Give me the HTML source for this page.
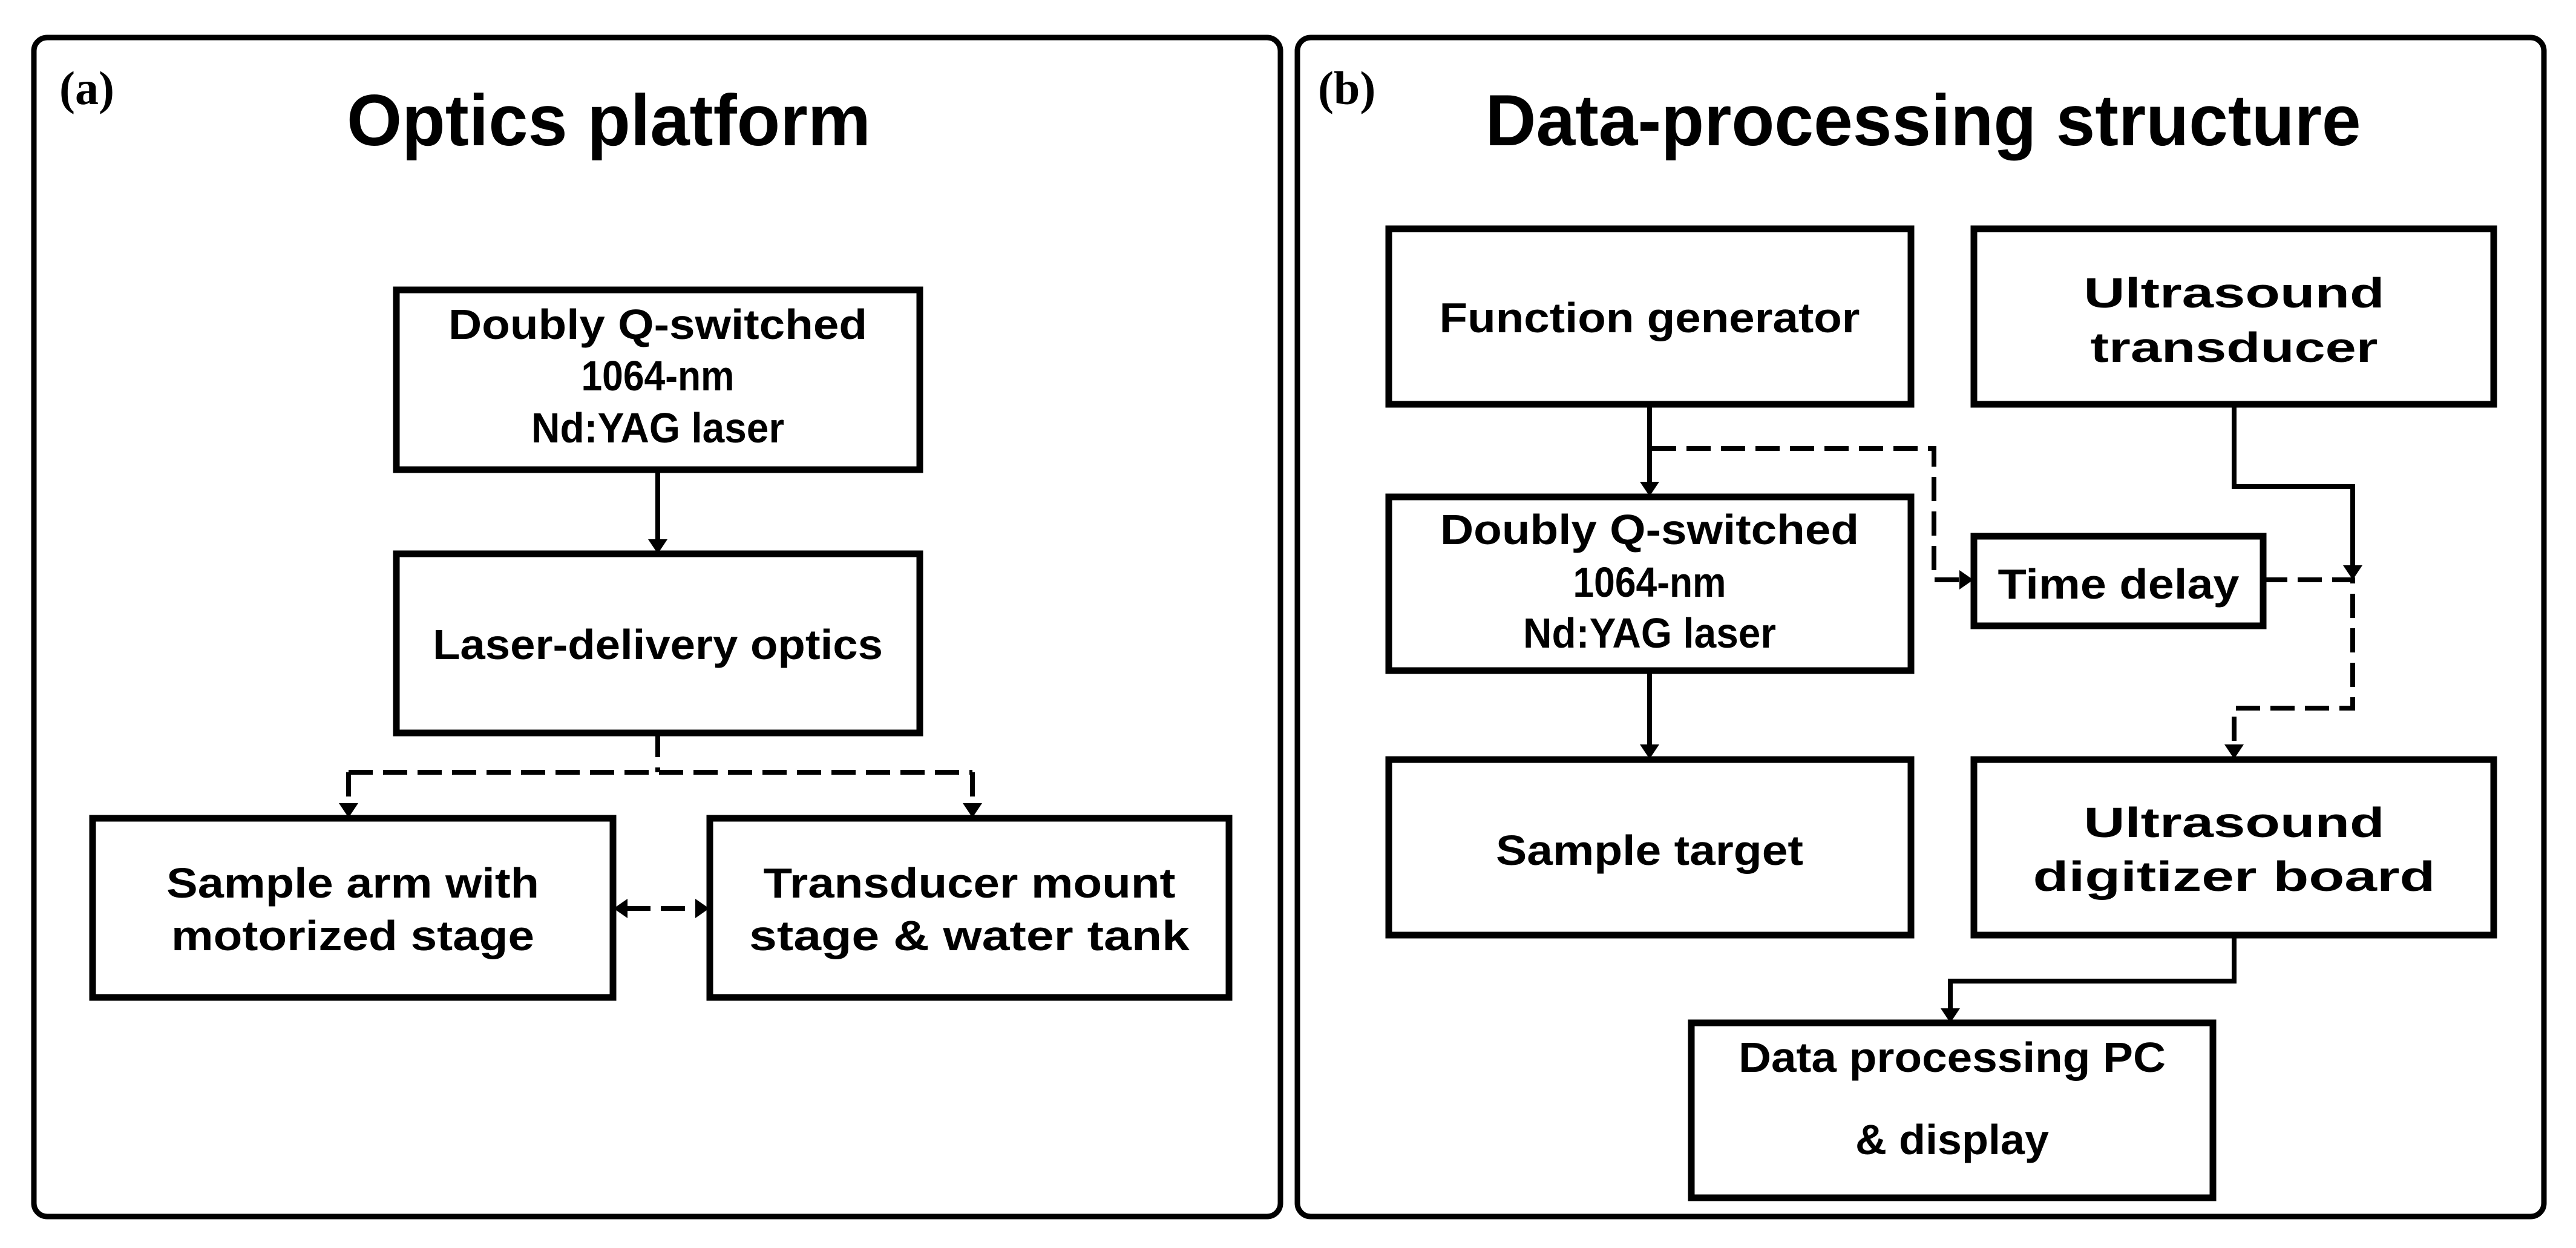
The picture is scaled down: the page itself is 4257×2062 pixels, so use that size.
<!DOCTYPE html>
<html><head><meta charset="utf-8"><style>
html,body{margin:0;padding:0;background:#fff;}
svg{display:block;}
text{font-family:"Liberation Sans",sans-serif;font-weight:bold;fill:#000;}
.t{font-size:70px;}
.h{font-size:120px;}
.l{font-family:"Liberation Serif",serif;font-size:78px;}
</style></head><body>
<svg width="4257" height="2062" viewBox="0 0 4257 2062" xmlns="http://www.w3.org/2000/svg">
<rect width="4257" height="2062" fill="#fff"/>
<!-- panels -->
<rect x="56" y="62" width="2060" height="1948" rx="22" fill="none" stroke="#000" stroke-width="9"/>
<rect x="2144" y="62" width="2060" height="1948" rx="22" fill="none" stroke="#000" stroke-width="9"/>
<text class="l" x="98" y="172">(a)</text>
<text class="l" x="2178" y="172">(b)</text>
<text class="h" x="1006" y="240" text-anchor="middle" textLength="866" lengthAdjust="spacingAndGlyphs">Optics platform</text>
<text class="h" x="3178" y="240" text-anchor="middle" textLength="1447" lengthAdjust="spacingAndGlyphs">Data-processing structure</text>

<g fill="none" stroke="#000" stroke-width="11">
<!-- panel a boxes -->
<rect x="655" y="479" width="865" height="297"/>
<rect x="655" y="915" width="865" height="296"/>
<rect x="153" y="1352" width="860" height="296"/>
<rect x="1173" y="1352" width="858" height="296"/>
<!-- panel b boxes -->
<rect x="2295" y="378" width="863" height="290"/>
<rect x="3262" y="378" width="859" height="290"/>
<rect x="2295" y="821" width="863" height="287"/>
<rect x="3262" y="886" width="478" height="148"/>
<rect x="2295" y="1255" width="863" height="290"/>
<rect x="3262" y="1255" width="859" height="290"/>
<rect x="2795" y="1690" width="862" height="289"/>
</g>

<g fill="none" stroke="#000" stroke-width="8">
<!-- solid connectors -->
<path d="M1087 776 V893"/>
<path d="M2726 668 V798"/>
<path d="M2726 1108 V1232"/>
<path d="M3692 668 V804 H3888 V936"/>
<path d="M3692 1545 V1621 H3223 V1668"/>
</g>
<g fill="none" stroke="#000" stroke-width="8" stroke-dasharray="40,17">
<path d="M1087 1211 V1276"/>
<path d="M576 1276 H1607"/>
<path d="M576 1276 V1328"/>
<path d="M1607 1276 V1328"/>
<path d="M1035 1501 H1151"/>
<path d="M2730 741 H3196 V958 H3240"/>
<path d="M3740 958 H3888 V1170 H3692 V1232"/>
</g>
<g fill="#000">
<polygon points="1071,891 1103,891 1087,915"/>
<polygon points="560,1327 592,1327 576,1351"/>
<polygon points="1591,1327 1623,1327 1607,1351"/>
<polygon points="1037,1485 1037,1517 1014,1501"/>
<polygon points="1149,1485 1149,1517 1172,1501"/>
<polygon points="2710,796 2742,796 2726,820"/>
<polygon points="2710,1230 2742,1230 2726,1254"/>
<polygon points="3238,942 3238,974 3261,958"/>
<polygon points="3872,934 3904,934 3888,958"/>
<polygon points="3676,1230 3708,1230 3692,1254"/>
<polygon points="3207,1666 3239,1666 3223,1690"/>
</g>

<!-- panel a text -->
<g class="t" text-anchor="middle">
<text class="t" x="1087" y="560" textLength="692" lengthAdjust="spacingAndGlyphs">Doubly Q-switched</text>
<text class="t" x="1087" y="645" textLength="253" lengthAdjust="spacingAndGlyphs">1064-nm</text>
<text class="t" x="1087" y="731" textLength="418" lengthAdjust="spacingAndGlyphs">Nd:YAG laser</text>
<text class="t" x="1087" y="1089" textLength="744" lengthAdjust="spacingAndGlyphs">Laser-delivery optics</text>
<text class="t" x="583" y="1483" textLength="616" lengthAdjust="spacingAndGlyphs">Sample arm with</text>
<text class="t" x="583" y="1570" textLength="600" lengthAdjust="spacingAndGlyphs">motorized stage</text>
<text class="t" x="1602" y="1483" textLength="681" lengthAdjust="spacingAndGlyphs">Transducer mount</text>
<text class="t" x="1602" y="1570" textLength="728" lengthAdjust="spacingAndGlyphs">stage &amp; water tank</text>
<!-- panel b text -->
<text class="t" x="2726" y="549" textLength="695" lengthAdjust="spacingAndGlyphs">Function generator</text>
<text class="t" x="3692" y="508" textLength="497" lengthAdjust="spacingAndGlyphs">Ultrasound</text>
<text class="t" x="3692" y="598" textLength="475" lengthAdjust="spacingAndGlyphs">transducer</text>
<text class="t" x="2726" y="899" textLength="692" lengthAdjust="spacingAndGlyphs">Doubly Q-switched</text>
<text class="t" x="2726" y="986" textLength="253" lengthAdjust="spacingAndGlyphs">1064-nm</text>
<text class="t" x="2726" y="1070" textLength="418" lengthAdjust="spacingAndGlyphs">Nd:YAG laser</text>
<text class="t" x="3501" y="989" textLength="399" lengthAdjust="spacingAndGlyphs">Time delay</text>
<text class="t" x="2726" y="1429" textLength="508" lengthAdjust="spacingAndGlyphs">Sample target</text>
<text class="t" x="3692" y="1383" textLength="497" lengthAdjust="spacingAndGlyphs">Ultrasound</text>
<text class="t" x="3692" y="1472" textLength="665" lengthAdjust="spacingAndGlyphs">digitizer board</text>
<text class="t" x="3226" y="1771" textLength="706" lengthAdjust="spacingAndGlyphs">Data processing PC</text>
<text class="t" x="3226" y="1907" textLength="320" lengthAdjust="spacingAndGlyphs">&amp; display</text>
</g>
</svg>
</body></html>
